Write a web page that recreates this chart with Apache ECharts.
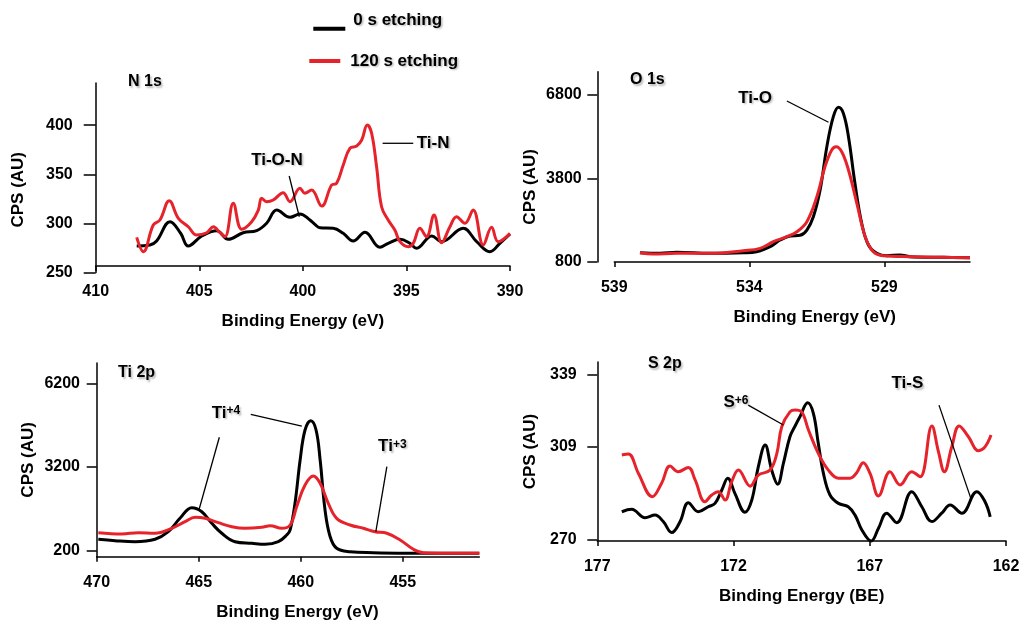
<!DOCTYPE html>
<html><head><meta charset="utf-8">
<script src="https://cdn.jsdelivr.net/npm/echarts@6/dist/echarts.min.js"></script>
<style>html,body{margin:0;padding:0;background:#fff}#c{width:1027px;height:621px}</style>
</head><body><div id="c"></div>
<script>
// ---------- data (binding energy, counts) ----------
const seriesNames = ['0 s etching', '120 s etching'];
const panelTitles = ['N 1s', 'O 1s', 'Ti 2p', 'S 2p'];
const xNames = ['Binding Energy (eV)', 'Binding Energy (eV)', 'Binding Energy (eV)', 'Binding Energy (BE)'];
const yName = 'CPS (AU)';

const n1sXTicks = [390, 395, 400, 405, 410];
const n1sYTicks = [250, 300, 350, 400];
const o1sXTicks = [529, 534, 539];
const o1sYTicks = [800, 3800, 6800];
const ti2pXTicks = [455, 460, 465, 470];
const ti2pYTicks = [200, 3200, 6200];
const s2pXTicks = [162, 167, 172, 177];
const s2pYTicks = [270, 309, 339];

const n1s0 = [[408.02,277],[407.38,278],[407.06,282],[406.41,301.7],[405.9,290],[405.53,277],[404.88,287.2],[404.16,292.6],[403.6,283.8],[402.88,290.5],[402.23,292.6],[401.75,300.1],[401.26,313.6],[400.62,306.2],[400.14,309.6],[399.66,303.5],[399.42,299],[399.17,295.5],[398.53,295],[398.05,289.9],[397.57,282.1],[397.0,290.9],[396.28,275.7],[395.88,279.7],[395.31,283.8],[394.83,279.7],[394.51,274.6],[393.78,287.2],[393.3,281.4],[392.26,295],[391.61,281.4],[390.97,271.2],[390.49,279.7],[390.0,289.2]];
const n1s120 = [[408.02,285.8],[407.7,271.2],[407.22,298.4],[406.9,303.5],[406.45,323.1],[406.01,305.2],[405.53,296.6],[405.13,288.2],[404.64,290.5],[404.32,296.6],[404.0,290.5],[403.76,286.5],[403.36,320.5],[402.95,294],[402.47,301.7],[402.15,313.6],[401.99,325.6],[401.75,322.1],[401.43,323.8],[400.95,331.3],[400.62,322.1],[400.14,335.7],[399.9,330.7],[399.58,334],[399.09,317.7],[398.61,339.1],[398.37,340.8],[398.05,359.5],[397.73,376.5],[397.4,378.8],[397.16,384.9],[396.89,400.2],[396.68,391.8],[396.44,357.7],[396.2,317],[395.88,303.5],[395.56,293.3],[395.31,281.4],[394.91,276.3],[394.67,279.7],[394.35,295],[394.03,286.5],[393.67,308.6],[393.3,280.3],[392.9,296.6],[392.58,306.8],[392.18,300.1],[391.78,313.6],[391.29,278],[390.89,296],[390.57,281.4],[390.0,289.9]];

const o1s0 = [[538.05,1134],[537.31,1113],[536.69,1149],[535.46,1113],[534.22,1134],[533.73,1170],[533.23,1350],[532.86,1591],[532.49,1735],[532.12,1760],[531.87,1950],[531.63,2428],[531.38,3388],[531.13,4944],[530.89,6023],[530.7,6361],[530.52,6145],[530.33,5304],[530.09,3629],[529.84,2191],[529.59,1411],[529.28,1113],[528.91,1026],[528.42,1052],[528.05,991],[526.81,969],[525.83,955]];
const o1s120 = [[538.05,1134],[537.56,1088],[536.69,1113],[535.46,1113],[534.22,1206],[533.6,1292],[533.11,1530],[532.61,1709],[532.24,1889],[531.87,2249],[531.5,3147],[531.2,4226],[530.95,4826],[530.79,4944],[530.58,4765],[530.33,4107],[530.02,2910],[529.71,1709],[529.41,1170],[529.04,1026],[528.05,991],[526.81,969],[525.83,955]];

const ti2p0 = [[469.92,609],[469.1,558],[468.12,523],[467.14,609],[466.49,881],[465.92,1361],[465.34,1741],[464.85,1598],[464.36,1182],[463.87,824],[463.22,523],[462.4,465],[461.75,429],[461.1,523],[460.69,763],[460.52,950],[460.28,1910],[460.03,3451],[459.79,4526],[459.51,4859],[459.25,4526],[459.05,3451],[458.81,1659],[458.56,702],[458.24,286],[457.58,164],[456.44,128],[454.8,110],[453.17,107],[451.25,107]];
const ti2p120 = [[469.92,845],[468.77,799],[467.96,845],[467.14,824],[466.32,1003],[465.67,1239],[465.18,1397],[464.69,1361],[464.04,1204],[463.38,1060],[462.73,1003],[461.91,1039],[461.5,1096],[460.93,1003],[460.52,1121],[460.2,1777],[459.79,2555],[459.38,2877],[459.05,2616],[458.65,1899],[458.24,1361],[457.58,1121],[456.93,1003],[456.36,881],[455.78,824],[455.13,584],[454.48,250],[453.99,128],[452.84,112],[451.25,112]];

const s2p0 = [[176.1,281.7],[175.74,282.7],[175.25,279.2],[174.88,280.3],[174.58,277.6],[174.27,273],[173.96,277.6],[173.66,285.5],[173.29,281.7],[172.93,283.8],[172.68,285.2],[172.43,290.8],[172.21,295.7],[171.95,289.4],[171.58,281.5],[171.33,286.6],[171.09,300.5],[170.84,309.6],[170.6,299.1],[170.38,293.2],[170.17,301.9],[169.93,313],[169.74,317.5],[169.56,321.4],[169.28,327.2],[169.07,322.8],[168.89,310.3],[168.7,297.7],[168.46,288.7],[168.15,285.2],[167.79,283.8],[167.54,280.3],[167.29,274.1],[166.95,269.5],[166.68,274.8],[166.38,281.1],[166.01,277.1],[165.46,290.1],[165.09,283.8],[164.72,277.6],[164.36,281.1],[164.05,284.5],[163.62,281.1],[163.07,290.1],[162.77,285.9],[162.58,279.6]];
const s2p120 = [[176.1,305.4],[175.86,305.8],[175.49,297.7],[174.98,288],[174.64,293.6],[174.33,300.8],[174.03,298.4],[173.66,300.2],[173.41,295],[173.05,285.9],[172.8,288.7],[172.56,290.1],[172.31,286.6],[172.07,294.2],[171.82,299.1],[171.39,292.4],[171.09,297],[170.66,299.1],[170.41,306.1],[170.23,317.2],[169.93,323.4],[169.74,324.2],[169.5,323.4],[169.25,315.8],[168.89,306.1],[168.52,299.1],[168.15,295.7],[167.72,295.7],[167.48,298],[167.24,302.2],[166.99,297.7],[166.68,288.3],[166.26,298.4],[165.89,292.9],[165.46,298.4],[165.15,296.3],[164.72,317.5],[164.48,306.8],[164.26,298.4],[163.99,308.8],[163.72,317.5],[163.38,313],[163.01,307.2],[162.77,308.8],[162.55,313.7]];

// annotation labels and leader lines, in data coordinates of each panel
const annoLabels = [
  [0, 'Ti-O-N', [401.25, 364.6]],
  [0, 'Ti-N', [393.71, 381.6]],
  [1, 'Ti-O', [533.79, 6684]],
  [2, 'Ti{s|+4}', [464.36, 5125]],
  [2, 'Ti{s|+3}', [456.21, 3928]],
  [3, 'S{s|+6}', [172.37, 327.2]],
  [3, 'Ti-S', [165.62, 335.3]]
];
const annoLines = [
  [0, [400.66, 348.3], [400.17, 306.8]],
  [0, [396.15, 381.6], [394.67, 381.6]],
  [1, [532.61, 6587], [531.07, 5822]],
  [2, [462.45, 5089], [459.95, 4669]],
  [2, [463.99, 4265], [464.99, 1659]],
  [2, [455.78, 3211], [456.32, 881]],
  [3, [171.46, 326.2], [170.17, 317.9]],
  [3, [164.46, 326.2], [163.29, 287.3]]
];

// ---------- layout & style ----------
const FONT = 'Liberation Sans, Arial, Helvetica, sans-serif';
const RED = '#e6232b';
const SHADOW = {textShadowColor: 'rgba(0,0,0,0.28)', textShadowBlur: 2, textShadowOffsetX: 1.5, textShadowOffsetY: 1.5};

const panels = [
  {grid: {left: 95.7, right: 517, top: 83, bottom: 348.5},
   x: {min: 390, max: 410, ticks: n1sXTicks, offset: -6.5, padL: 0},
   y: {min: 250, max: 443, ticks: n1sYTicks, offset: 0, margin: 23, tick: 12, gap: 69, padR: 24},
   title: {left: 128, top: 74}, d0: n1s0, d1: n1s120},
  {grid: {left: 614.3, right: 57, top: 71.7, bottom: 359},
   x: {min: 525.83, max: 539, ticks: o1sXTicks, offset: 0, padL: 45},
   y: {min: 800, max: 7640, ticks: o1sYTicks, offset: 17, margin: 15.6, tick: 10, gap: 58, padR: 40},
   title: {left: 630, top: 72}, d0: o1s0, d1: o1s120},
  {grid: {left: 96.7, right: 547.7, top: 363, bottom: 64.3},
   x: {min: 451.25, max: 470, ticks: ti2pXTicks, offset: 0, padL: 19},
   y: {min: -15, max: 6928, ticks: ti2pYTicks, offset: 0, margin: 16.7, tick: 10, gap: 60, padR: 0},
   title: {left: 118, top: 365}, d0: ti2p0, d1: ti2p120},
  {grid: {left: 597.3, right: 21, top: 362, bottom: 80},
   x: {min: 162, max: 177, ticks: s2pXTicks, offset: 0, padL: 0},
   y: {min: 269.5, max: 344.2, ticks: s2pYTicks, offset: 0, margin: 20.6, tick: 10, gap: 58, padR: 0},
   title: {left: 648, top: 356}, d0: s2p0, d1: s2p120}
];

const axisLineStyle = {color: '#000', width: 1.5};
const tickFont = {fontFamily: FONT, fontSize: 16, fontWeight: 'bold', color: '#000'};
const nameFont = {fontFamily: FONT, fontSize: 17, fontWeight: 'bold', color: '#000'};
const plain = v => String(v);

const option = {
  animation: false,
  backgroundColor: '#fff',
  title: panels.map((p, i) => ({
    text: panelTitles[i], left: p.title.left, top: p.title.top, padding: 0,
    textStyle: Object.assign({fontFamily: FONT, fontSize: 16, fontWeight: 'bold', color: '#000'}, SHADOW)
  })),
  legend: [
    {data: [seriesNames[0]], left: 313.3, top: 9.7, padding: 0,
     icon: 'path://M0,0M0,17L32,17L32,21L0,21Z', itemWidth: 32, itemHeight: 22,
     selectedMode: false,
     textStyle: Object.assign({fontFamily: FONT, fontSize: 17, fontWeight: 'bold', color: '#000', padding: [0, 0, 0, 3]}, SHADOW)},
    {data: [seriesNames[1]], left: 309.3, top: 52.5, padding: 0, icon: 'rect', itemWidth: 31, itemHeight: 4,
     selectedMode: false,
     textStyle: Object.assign({fontFamily: FONT, fontSize: 17, fontWeight: 'bold', color: '#000', padding: [0, 0, 0, 5]}, SHADOW)}
  ],
  grid: panels.map(p => Object.assign({containLabel: false, outerBoundsMode: 'none'}, p.grid)),
  xAxis: panels.map((p, i) => ({
    gridIndex: i, type: 'value', inverse: true, min: p.x.min, max: p.x.max, offset: p.x.offset,
    axisLine: {show: true, onZero: false, lineStyle: axisLineStyle},
    axisTick: {show: true, length: 5, customValues: p.x.ticks, lineStyle: axisLineStyle},
    axisLabel: Object.assign({customValues: p.x.ticks, margin: 18, formatter: plain}, tickFont),
    splitLine: {show: false},
    name: xNames[i], nameLocation: 'middle', nameGap: 47,
    nameTextStyle: Object.assign({padding: [0, 0, 0, p.x.padL]}, nameFont)
  })),
  yAxis: panels.map((p, i) => ({
    gridIndex: i, type: 'value', min: p.y.min, max: p.y.max, offset: p.y.offset,
    axisLine: {show: true, onZero: false, lineStyle: axisLineStyle},
    axisTick: {show: true, length: p.y.tick, customValues: p.y.ticks, lineStyle: axisLineStyle},
    axisLabel: Object.assign({customValues: p.y.ticks, margin: p.y.margin, formatter: plain}, tickFont),
    splitLine: {show: false},
    name: yName, nameLocation: 'middle', nameGap: p.y.gap,
    nameTextStyle: Object.assign({padding: [0, p.y.padR, 0, 0]}, nameFont)
  })),
  series: []
};
panels.forEach((p, i) => {
  option.series.push({type: 'line', name: seriesNames[0], xAxisIndex: i, yAxisIndex: i, data: p.d0,
    showSymbol: false, smooth: 0.4, clip: false, color: '#000', lineStyle: {color: '#000', width: 3}});
  option.series.push({type: 'line', name: seriesNames[1], xAxisIndex: i, yAxisIndex: i, data: p.d1,
    showSymbol: false, smooth: 0.4, clip: false, color: RED, lineStyle: {color: RED, width: 3}});
});

const chart = echarts.init(document.getElementById('c'), null, {renderer: 'canvas'});
chart.setOption(option);

// annotations placed through each grid's scales
const graphics = [];
annoLines.forEach(([g, a, b]) => {
  const p1 = chart.convertToPixel({gridIndex: g}, a);
  const p2 = chart.convertToPixel({gridIndex: g}, b);
  graphics.push({type: 'line', shape: {x1: p1[0], y1: p1[1], x2: p2[0], y2: p2[1]},
    style: {stroke: '#000', lineWidth: 1.3}, z: 10});
});
annoLabels.forEach(([g, txt, at]) => {
  const p = chart.convertToPixel({gridIndex: g}, at);
  const centered = txt.indexOf('{') < 0;
  graphics.push({type: 'text', x: p[0], y: p[1], z: 10,
    style: Object.assign({text: txt, fill: '#000', fontFamily: FONT, fontSize: 17, fontWeight: 'bold',
      align: centered ? 'center' : 'left', verticalAlign: 'middle',
      rich: {s: {fontFamily: FONT, fontSize: 12, fontWeight: 'bold', fill: '#000', verticalAlign: 'top', lineHeight: 12}}}, SHADOW)});
});
chart.setOption({graphic: graphics});
</script>
</body></html>
